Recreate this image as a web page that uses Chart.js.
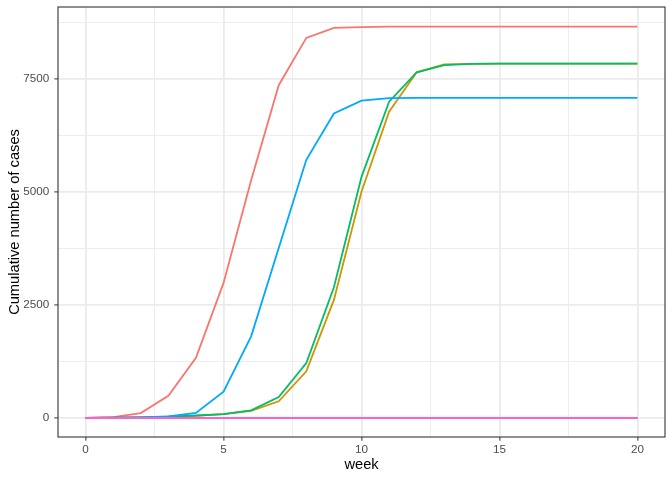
<!DOCTYPE html>
<html>
<head>
<meta charset="utf-8">
<script src="https://cdn.jsdelivr.net/npm/chart.js@4"></script>
<style>
  html, body { margin: 0; padding: 0; background: #fff; }
  #wrap { width: 672px; height: 480px; }
</style>
</head>
<body>
<div id="wrap"><canvas id="chart" width="672" height="480"></canvas></div>
<script>
// weeks 0..20
const weeks = [0, 1, 2, 3, 4, 5, 6, 7, 8, 9, 10, 11, 12, 13, 14, 15, 16, 17, 18, 19, 20];

// cumulative cases per group
const groupA = [0, 20, 110, 490, 1330, 2985, 5255, 7355, 8400, 8620, 8640, 8648, 8650, 8650, 8650, 8650, 8650, 8650, 8650, 8650, 8650];
const groupB = [0, 5, 15, 25, 45, 85, 160, 370, 1030, 2610, 5000, 6770, 7640, 7815, 7828, 7830, 7830, 7830, 7830, 7830, 7830];
const groupC = [0, 0, 0, 0, 0, 0, 0, 0, 0, 0, 0, 0, 0, 0, 0, 0, 0, 0, 0, 0, 0];
const groupD = [0, 5, 15, 30, 55, 85, 170, 465, 1215, 2890, 5330, 6990, 7640, 7800, 7825, 7830, 7830, 7830, 7830, 7830, 7830];
const groupE = [0, 0, 0, 0, 0, 0, 0, 0, 0, 0, 0, 0, 0, 0, 0, 0, 0, 0, 0, 0, 0];
const groupF = [0, 5, 15, 38, 112, 583, 1805, 3755, 5705, 6730, 7015, 7070, 7073, 7073, 7073, 7073, 7073, 7073, 7073, 7073, 7073];
const groupG = [0, 0, 0, 0, 0, 0, 0, 0, 0, 0, 0, 0, 0, 0, 0, 0, 0, 0, 0, 0, 0];
const groupH = [0, 0, 0, 0, 0, 0, 0, 0, 0, 0, 0, 0, 0, 0, 0, 0, 0, 0, 0, 0, 0];

const groupNames = ["A", "B", "C", "D", "E", "F", "G", "H"];
const groupValues = [groupA, groupB, groupC, groupD, groupE, groupF, groupG, groupH];
const groupColors = ["#F8766D", "#CD9600", "#7CAE00", "#00BE67", "#00BFC4", "#00A9FF", "#C77CFF", "#FF61CC"];

const xMajor = [0, 5, 10, 15, 20];
const xMinor = [2.5, 7.5, 12.5, 17.5];
const yMajor = [0, 2500, 5000, 7500];
const yMinor = [1250, 3750, 6250, 8750];

const datasets = groupNames.map((name, i) => ({
  label: name,
  data: weeks.map((w, j) => ({ x: w, y: groupValues[i][j] })),
  borderColor: groupColors[i],
  backgroundColor: groupColors[i],
  borderWidth: 1.8,
  pointRadius: 0,
  tension: 0,
  order: groupNames.length - i, // later groups drawn on top, like ggplot
}));

// ggplot-like panel border
const panelBorder = {
  id: "panelBorder",
  afterDraw(chart) {
    const { ctx, chartArea: a } = chart;
    ctx.save();
    ctx.strokeStyle = "#333333";
    ctx.lineWidth = 1.1;
    ctx.strokeRect(a.left, a.top, a.right - a.left, a.bottom - a.top);
    ctx.restore();
  },
};

const isMajor = (list, v) => list.includes(v);
const tickFont = { family: "'Liberation Sans', Arial, sans-serif", size: 11.7 };
const titleFont = { family: "'Liberation Sans', Arial, sans-serif", size: 14.67 };

new Chart(document.getElementById("chart"), {
  type: "line",
  data: { datasets },
  plugins: [panelBorder],
  options: {
    responsive: false,
    animation: false,
    layout: { padding: { top: 7, right: 7, left: 0, bottom: 0 } },
    plugins: { legend: { display: false }, tooltip: { enabled: false } },
    scales: {
      x: {
        type: "linear",
        min: -1,
        max: 21,
        afterBuildTicks: (s) => {
          s.ticks = [...xMajor, ...xMinor].sort((a, b) => a - b).map((v) => ({ value: v }));
        },
        afterFit: (s) => { s.height = 43; s.paddingLeft = 0; s.paddingRight = 0; },
        ticks: {
          autoSkip: false,
          maxRotation: 0,
          color: "#4D4D4D",
          font: tickFont,
          padding: 2,
          callback: (v) => (isMajor(xMajor, v) ? String(v) : ""),
        },
        grid: {
          color: "#EBEBEB",
          lineWidth: (c) => (isMajor(xMajor, c.tick.value) ? 1.8 : 0.9),
          tickColor: (c) => (isMajor(xMajor, c.tick.value) ? "#333333" : "rgba(0,0,0,0)"),
          tickWidth: 1,
          tickLength: 3.7,
        },
        border: { display: false },
        title: { display: true, text: "week", color: "#000", font: titleFont, padding: { top: 3, bottom: 6 } },
      },
      y: {
        type: "linear",
        min: -420,
        max: 9083,
        afterBuildTicks: (s) => {
          s.ticks = [...yMajor, ...yMinor].sort((a, b) => a - b).map((v) => ({ value: v }));
        },
        afterFit: (s) => { s.width = 58; s.paddingTop = 0; s.paddingBottom = 0; },
        ticks: {
          autoSkip: false,
          color: "#4D4D4D",
          font: tickFont,
          padding: 5,
          callback: (v) => (isMajor(yMajor, v) ? String(v) : ""),
        },
        grid: {
          color: "#EBEBEB",
          lineWidth: (c) => (isMajor(yMajor, c.tick.value) ? 1.8 : 0.9),
          tickColor: (c) => (isMajor(yMajor, c.tick.value) ? "#333333" : "rgba(0,0,0,0)"),
          tickWidth: 1,
          tickLength: 3.7,
        },
        border: { display: false },
        title: { display: true, text: "Cumulative number of cases", color: "#000", font: titleFont, padding: { top: 6, bottom: 3 } },
      },
    },
  },
});
</script>
</body>
</html>
